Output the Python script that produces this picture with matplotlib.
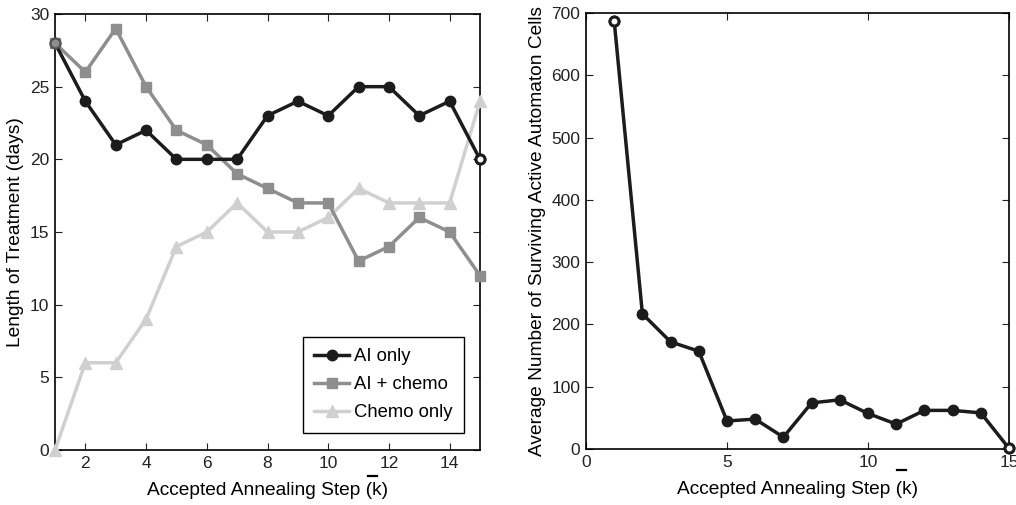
import matplotlib
matplotlib.use("Agg")
import matplotlib.pyplot as plt
from matplotlib.lines import Line2D

plt.rcParams['font.family'] = ['Liberation Sans', 'DejaVu Sans']
plt.rcParams['font.size'] = 12.5

steps = list(range(1, 16))
ai_only = [28, 24, 21, 22, 20, 20, 20, 23, 24, 23, 25, 25, 23, 24, 20]
ai_chemo = [28, 26, 29, 25, 22, 21, 19, 18, 17, 17, 13, 14, 16, 15, 12]
chemo_only = [0, 6, 6, 9, 14, 15, 17, 15, 15, 16, 18, 17, 17, 17, 24]
surviving = [687, 217, 172, 157, 45, 48, 19, 74, 79, 57, 40, 62, 62, 58, 1]

c_ai = '#1c1c1c'
c_aic = '#8e8e8e'
c_ch = '#d0d0d0'

fig = plt.figure(figsize=(10.16, 5.05), dpi=100)
ax1 = fig.add_axes([55 / 1016, 55 / 505, 425 / 1016, 436 / 505])
ax2 = fig.add_axes([586 / 1016, 56 / 505, 423 / 1016, 436 / 505])

lw = 2.5
ax1.plot(steps, chemo_only, '-^', color=c_ch, lw=lw, ms=8.5, label='Chemo only', zorder=3)
ax1.plot(steps, ai_chemo, '-s', color=c_aic, lw=lw, ms=6.5, label='AI + chemo', zorder=4)
ax1.plot(steps, ai_only, '-o', color=c_ai, lw=lw, ms=7.5, label='AI only', zorder=5)
# end markers
ax1.plot(steps[0], ai_only[0], 'o', ms=7, mfc=c_aic, mec='#555555', mew=1.5, zorder=6)
ax1.plot(steps[-1], ai_only[-1], 'o', ms=6.5, mfc='white', mec=c_ai, mew=2.2, zorder=6)
ax1.set_xlim(1, 15)
ax1.set_ylim(0, 30)
ax1.set_xticks(range(2, 15, 2))
ax1.set_yticks(range(0, 31, 5))
ax1.set_xlabel('Accepted Annealing Step (k)', fontsize=13.8)
ax1.set_ylabel('Length of Treatment (days)', fontsize=13.8)

handles = [Line2D([], [], color=c_ai, lw=lw, marker='o', ms=7.5),
           Line2D([], [], color=c_aic, lw=lw, marker='s', ms=6.5),
           Line2D([], [], color=c_ch, lw=lw, marker='^', ms=8.5)]
leg = ax1.legend(handles, ['AI only', 'AI + chemo', 'Chemo only'],
                 loc='lower right', bbox_to_anchor=(0.962, 0.04),
                 fancybox=False, edgecolor='black', framealpha=1,
                 handlelength=1.9, handletextpad=0.27, borderpad=0.6,
                 labelspacing=0.6, borderaxespad=0, fontsize=13.3)
leg.get_frame().set_linewidth(1.0)

ax2.plot(steps, surviving, '-o', color=c_ai, lw=lw, ms=7.5, zorder=5)
ax2.plot([steps[0], steps[-1]], [surviving[0], surviving[-1]], 'o', ms=6.5,
         mfc='white', mec=c_ai, mew=2.2, zorder=6)
ax2.set_xlim(0, 15)
ax2.set_ylim(0, 700)
ax2.set_xticks([0, 5, 10, 15])
ax2.set_yticks(range(0, 701, 100))
ax2.set_xlabel('Accepted Annealing Step (k)', fontsize=13.8)
ax2.set_ylabel('Average Number of Surviving Active Automaton Cells', fontsize=13.8)

for ax in (ax1, ax2):
    ax.tick_params(direction='in', top=True, right=True, length=5, width=0.8,
                   labelsize=12.5, colors='#222222', pad=4)
    for sp in ax.spines.values():
        sp.set_linewidth(1.2)
    ax.xaxis.labelpad = 8
    ax.yaxis.labelpad = 4
    for line in ax.get_lines():
        line.set_clip_on(False)

# short bars drawn above the k in each axis label
fig.add_artist(Line2D([368 / 1016, 377 / 1016], [(505 - 476) / 505] * 2,
                      color='black', lw=1.6))
fig.add_artist(Line2D([897 / 1016, 906 / 1016], [(505 - 470) / 505] * 2,
                      color='black', lw=1.6))

fig.savefig('out.png', dpi=100)
